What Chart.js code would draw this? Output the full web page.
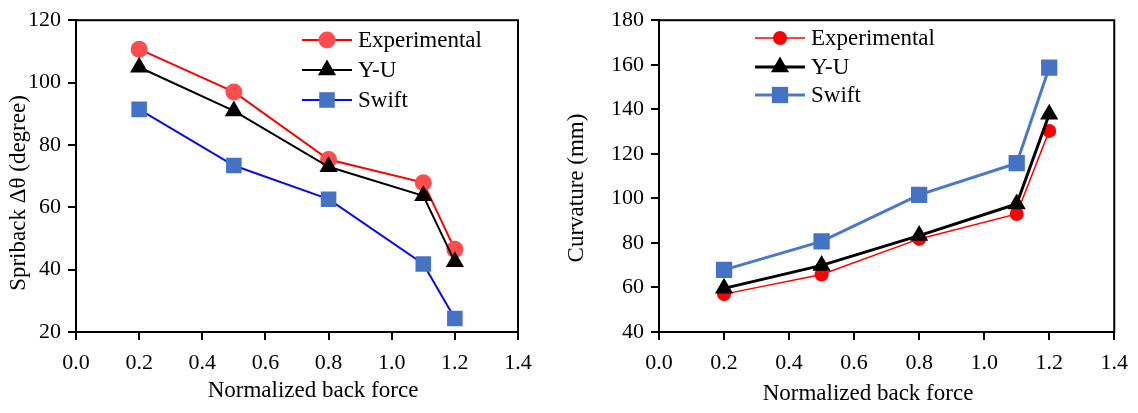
<!DOCTYPE html>
<html>
<head>
<meta charset="utf-8">
<script src="https://cdn.jsdelivr.net/npm/chart.js@4"></script>
<style>
  html, body { margin: 0; padding: 0; background: #fff; }
  #wrap { position: relative; width: 1138px; height: 413px; }
  #c1 { position: absolute; left: 0; top: 0; }
  #c2 { position: absolute; left: 560px; top: 0; }
</style>
</head>
<body>
<div id="wrap">
  <canvas id="c1" width="560" height="413"></canvas>
  <canvas id="c2" width="578" height="413"></canvas>
</div>
<script>
// ---- data ----
const backForce = [0.2, 0.5, 0.8, 1.1, 1.2];
const seriesNames = ['Experimental', 'Y-U', 'Swift'];

const springbackExp = [110.7, 97.0, 75.3, 67.9, 46.5];
const springbackYU = [104.9, 90.9, 73.0, 63.7, 42.5];
const springbackSwift = [91.4, 73.4, 62.6, 41.8, 24.3];

const curvatureExp = [57.0, 65.8, 81.8, 93.0, 130.3];
const curvatureYU = [59.6, 69.9, 83.3, 97.5, 137.8];
const curvatureSwift = [67.9, 80.7, 101.6, 115.8, 158.7];

const xTicks = [0.0, 0.2, 0.4, 0.6, 0.8, 1.0, 1.2, 1.4];
const yTicksLeft = [20, 40, 60, 80, 100, 120];
const yTicksRight = [40, 60, 80, 100, 120, 140, 160, 180];

const FONT = "'Liberation Serif', 'Times New Roman', serif";

function pts(ys) { return backForce.map((x, i) => ({ x: x, y: ys[i] })); }

function boxPlugin(cfg) {
  return {
    id: 'box_' + cfg.id,
    afterDraw(chart) {
      const ctx = chart.ctx;
      const a = chart.chartArea;
      ctx.save();
      ctx.strokeStyle = '#000';
      ctx.lineWidth = 2;
      ctx.strokeRect(a.left, a.top, a.right - a.left, a.bottom - a.top);
      // axis titles
      ctx.fillStyle = '#000';
      ctx.font = '23px ' + FONT;
      ctx.textAlign = 'center';
      ctx.textBaseline = 'middle';
      ctx.fillText(cfg.xTitle, cfg.xTitlePos[0], cfg.xTitlePos[1]);
      ctx.save();
      ctx.translate(cfg.yTitlePos[0], cfg.yTitlePos[1]);
      ctx.rotate(-Math.PI / 2);
      ctx.fillText(cfg.yTitle, 0, 0);
      ctx.restore();
      // legend
      const ds = chart.data.datasets;
      cfg.legendOrder.forEach((di, row) => {
        const d = ds[di];
        const y = cfg.legend.y[row];
        ctx.strokeStyle = d.borderColor;
        ctx.lineWidth = d.borderWidth;
        ctx.beginPath();
        ctx.moveTo(cfg.legend.x0, y);
        ctx.lineTo(cfg.legend.x1, y);
        ctx.stroke();
        ctx.fillStyle = d.pointBackgroundColor;
        ctx.strokeStyle = d.pointBorderColor;
        Chart.helpers.drawPoint(ctx, {
          pointStyle: d.pointStyle,
          radius: d.pointRadius,
          rotation: 0,
          borderWidth: d.pointBorderWidth
        }, (cfg.legend.x0 + cfg.legend.x1) / 2, y);
        ctx.fillStyle = '#000';
        ctx.font = '23px ' + FONT;
        ctx.textAlign = 'left';
        ctx.textBaseline = 'middle';
        ctx.fillText(d.label, cfg.legend.tx, y + 1);
      });
      ctx.restore();
    }
  };
}

function makeChart(el, o) {
  return new Chart(el, {
    type: 'line',
    data: { datasets: o.datasets },
    options: {
      responsive: false,
      devicePixelRatio: 1,
      animation: false,
      layout: { padding: { top: o.pad.top, right: o.pad.right, left: 0, bottom: 0 } },
      plugins: { legend: { display: false }, tooltip: { enabled: false } },
      scales: {
        x: {
          type: 'linear', min: 0, max: 1.4,
          afterBuildTicks: s => { s.ticks = xTicks.map(v => ({ value: v })); },
          afterFit: s => { s.height = o.xHeight; },
          ticks: {
            color: '#000', padding: 10,
            font: { family: FONT, size: 22 },
            callback: v => Number(v).toFixed(1),
            maxRotation: 0, autoSkip: false
          },
          grid: { display: true, drawOnChartArea: false, drawTicks: true, tickLength: 8, color: '#000', lineWidth: 2 },
          border: { display: true, color: '#000', width: 2 }
        },
        y: {
          type: 'linear', min: o.yMin, max: o.yMax,
          afterBuildTicks: s => { s.ticks = o.yTicks.map(v => ({ value: v })); },
          afterFit: s => { s.width = o.yWidth; },
          ticks: {
            color: '#000', padding: 7,
            font: { family: FONT, size: 22 },
            autoSkip: false
          },
          grid: { display: true, drawOnChartArea: false, drawTicks: true, tickLength: 8, color: '#000', lineWidth: 2 },
          border: { display: true, color: '#000', width: 2 }
        }
      }
    },
    plugins: [boxPlugin(o.box)]
  });
}

// Datasets drawn in reverse index order (index 0 on top)
makeChart(document.getElementById('c1'), {
  pad: { top: 16, right: 42 },
  xHeight: 81, yWidth: 76,
  yMin: 20, yMax: 120, yTicks: yTicksLeft,
  datasets: [
    { label: seriesNames[2], data: pts(springbackSwift), borderColor: '#0a0aef', borderWidth: 2,
      pointStyle: 'rect', pointRadius: 11, pointBackgroundColor: '#4472c4', pointBorderColor: '#4472c4', pointBorderWidth: 0, tension: 0 },
    { label: seriesNames[1], data: pts(springbackYU), borderColor: '#000', borderWidth: 2,
      pointStyle: 'triangle', pointRadius: 10.5, pointBackgroundColor: '#000', pointBorderColor: '#000', pointBorderWidth: 0, tension: 0 },
    { label: seriesNames[0], data: pts(springbackExp), borderColor: '#ff0000', borderWidth: 2,
      pointStyle: 'circle', pointRadius: 8.5, pointBackgroundColor: '#ff4c4c', pointBorderColor: '#ff4c4c', pointBorderWidth: 0, tension: 0 }
  ],
  box: {
    id: 'l',
    xTitle: 'Normalized back force', xTitlePos: [313, 391],
    yTitle: 'Spriback \u0394\u03b8 (degree)', yTitlePos: [19, 193],
    legendOrder: [2, 1, 0],
    legend: { x0: 302, x1: 352, tx: 358, y: [40, 70, 100] }
  }
});

makeChart(document.getElementById('c2'), {
  pad: { top: 19, right: 19 },
  xHeight: 81, yWidth: 99,
  yMin: 40, yMax: 180, yTicks: yTicksRight,
  datasets: [
    { label: seriesNames[2], data: pts(curvatureSwift), borderColor: '#4a78cc', borderWidth: 3,
      pointStyle: 'rect', pointRadius: 11.5, pointBackgroundColor: '#4472c4', pointBorderColor: '#4472c4', pointBorderWidth: 0, tension: 0 },
    { label: seriesNames[1], data: pts(curvatureYU), borderColor: '#000', borderWidth: 3,
      pointStyle: 'triangle', pointRadius: 10.5, pointBackgroundColor: '#000', pointBorderColor: '#000', pointBorderWidth: 0, tension: 0 },
    { label: seriesNames[0], data: pts(curvatureExp), borderColor: '#ff0000', borderWidth: 1.5,
      pointStyle: 'circle', pointRadius: 7, pointBackgroundColor: '#ff0000', pointBorderColor: '#ff0000', pointBorderWidth: 0, tension: 0 }
  ],
  box: {
    id: 'r',
    xTitle: 'Normalized back force', xTitlePos: [308, 394],
    yTitle: 'Curvature (mm)', yTitlePos: [17, 188],
    legendOrder: [2, 1, 0],
    legend: { x0: 195, x1: 245, tx: 251, y: [38, 67, 95] }
  }
});
</script>
</body>
</html>
